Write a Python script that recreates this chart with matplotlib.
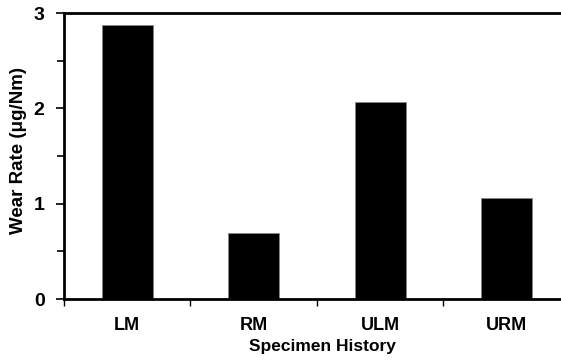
import matplotlib.pyplot as plt
from matplotlib.ticker import MultipleLocator, FixedLocator

plt.rcParams["font.family"] = ["Liberation Sans", "DejaVu Sans"]
plt.rcParams["font.weight"] = "bold"

specimens = ["LM", "RM", "ULM", "URM"]
wear_rate = [2.87, 0.69, 2.07, 1.06]

fig = plt.figure(figsize=(5.61, 3.62), dpi=100)
ax = fig.add_axes([0.114, 0.174, 0.902, 0.79])

x = range(len(specimens))
ax.bar(x, wear_rate, width=0.4, color="black", edgecolor="#888888", linewidth=0.6)

ax.set_xlim(-0.5, len(specimens) - 0.5)
ax.set_ylim(0, 3)

ax.set_xticks(list(x))
ax.set_xticklabels(specimens, fontsize=13, fontweight="bold")
ax.tick_params(axis="x", which="major", length=0, pad=13)
ax.xaxis.set_minor_locator(FixedLocator([i - 0.5 for i in range(len(specimens) + 1)]))
ax.tick_params(axis="x", which="minor", length=5, width=1, direction="out")

ax.yaxis.set_major_locator(MultipleLocator(1))
ax.yaxis.set_minor_locator(MultipleLocator(0.5))
ax.tick_params(axis="y", which="major", length=6, width=1.2, labelsize=14, pad=8)
ax.tick_params(axis="y", which="minor", length=5, width=1.2)
for lab in ax.get_yticklabels():
    lab.set_fontweight("bold")

for side in ["left", "bottom", "top"]:
    ax.spines[side].set_linewidth(2)
ax.spines["right"].set_visible(False)

ax.set_ylabel("Wear Rate (μg/Nm)", fontsize=13.5, fontweight="bold")
ax.yaxis.set_label_coords(-0.073, 0.52)
ax.set_xlabel("Specimen History", fontsize=12.5, fontweight="bold")
ax.xaxis.set_label_coords(0.51, -0.14)

plt.savefig("out.png", dpi=100)
plt.close()
